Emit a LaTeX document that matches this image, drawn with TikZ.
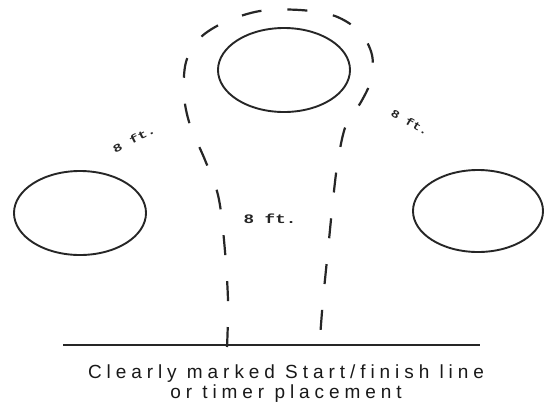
\documentclass[tikz,border=0pt]{standalone}
\usepackage{fontspec}
\usetikzlibrary{shapes.geometric}
\newfontfamily\capfont[LetterSpace=26]{Liberation Sans}
\newfontfamily\lblfont{Liberation Mono}
\begin{document}
\begin{tikzpicture}[x=1pt,y=-1pt]
\useasboundingbox[fill=white] (0,0) rectangle (546,405);
\tikzset{
  cone/.style={draw=black!85, line width=1.9pt, ellipse, inner sep=0pt,
    minimum width=132pt, minimum height=84pt},
  runpath/.style={draw=black!85, line width=2.2pt, dash pattern=on 20pt off 26pt},
  startline/.style={draw=black!85, line width=2.4pt},
  caption/.style={anchor=base, text=black!90, font=\capfont\fontsize{19}{22}\selectfont},
  dist/.style={text=black!85, inner sep=0pt, font=\lblfont\bfseries\fontsize{11}{12}\selectfont}
}
% cones
\node[cone] (top) at (284,70) {};
\node[cone] (left) at (80,213) {};
\node[cone, minimum width=130pt, minimum height=82pt] (right) at (478,211) {};
% start / finish line
\coordinate (lineL) at (63,345);
\coordinate (lineR) at (480,345);
\draw[startline] (lineL) -- (lineR);
% running path
\coordinate (runStart) at (227,347);
\coordinate (runEnd) at (320,338);
\draw[runpath] plot[smooth, tension=0.55] coordinates {(runStart) (228,300) (224,240) (218,195) (205,160) (190,125) (184,95) (186,62) (200,38) (225,22) (260,11) (300,10) (335,16) (360,32) (372,55) (371,80) (361,102) (346,125) (338,160) (333,200) (328,250) (323,300) (runEnd)};
% distance labels
\node[dist, rotate=27, xscale=1.4] (dl) at (134,139) {8 ft.};
\node[dist, rotate=-30, xscale=1.25] (dr) at (410,122) {8 ft.};
\node[dist, xscale=1.35, font=\lblfont\bfseries\fontsize{13}{14}\selectfont] (dm) at (270,219) {8 ft.};
% caption
\node[caption] (cap1) at (286,378) {Clearly marked Start/finish line};
\node[caption] (cap2) at (286,398) {or timer placement};
\end{tikzpicture}
\end{document}
